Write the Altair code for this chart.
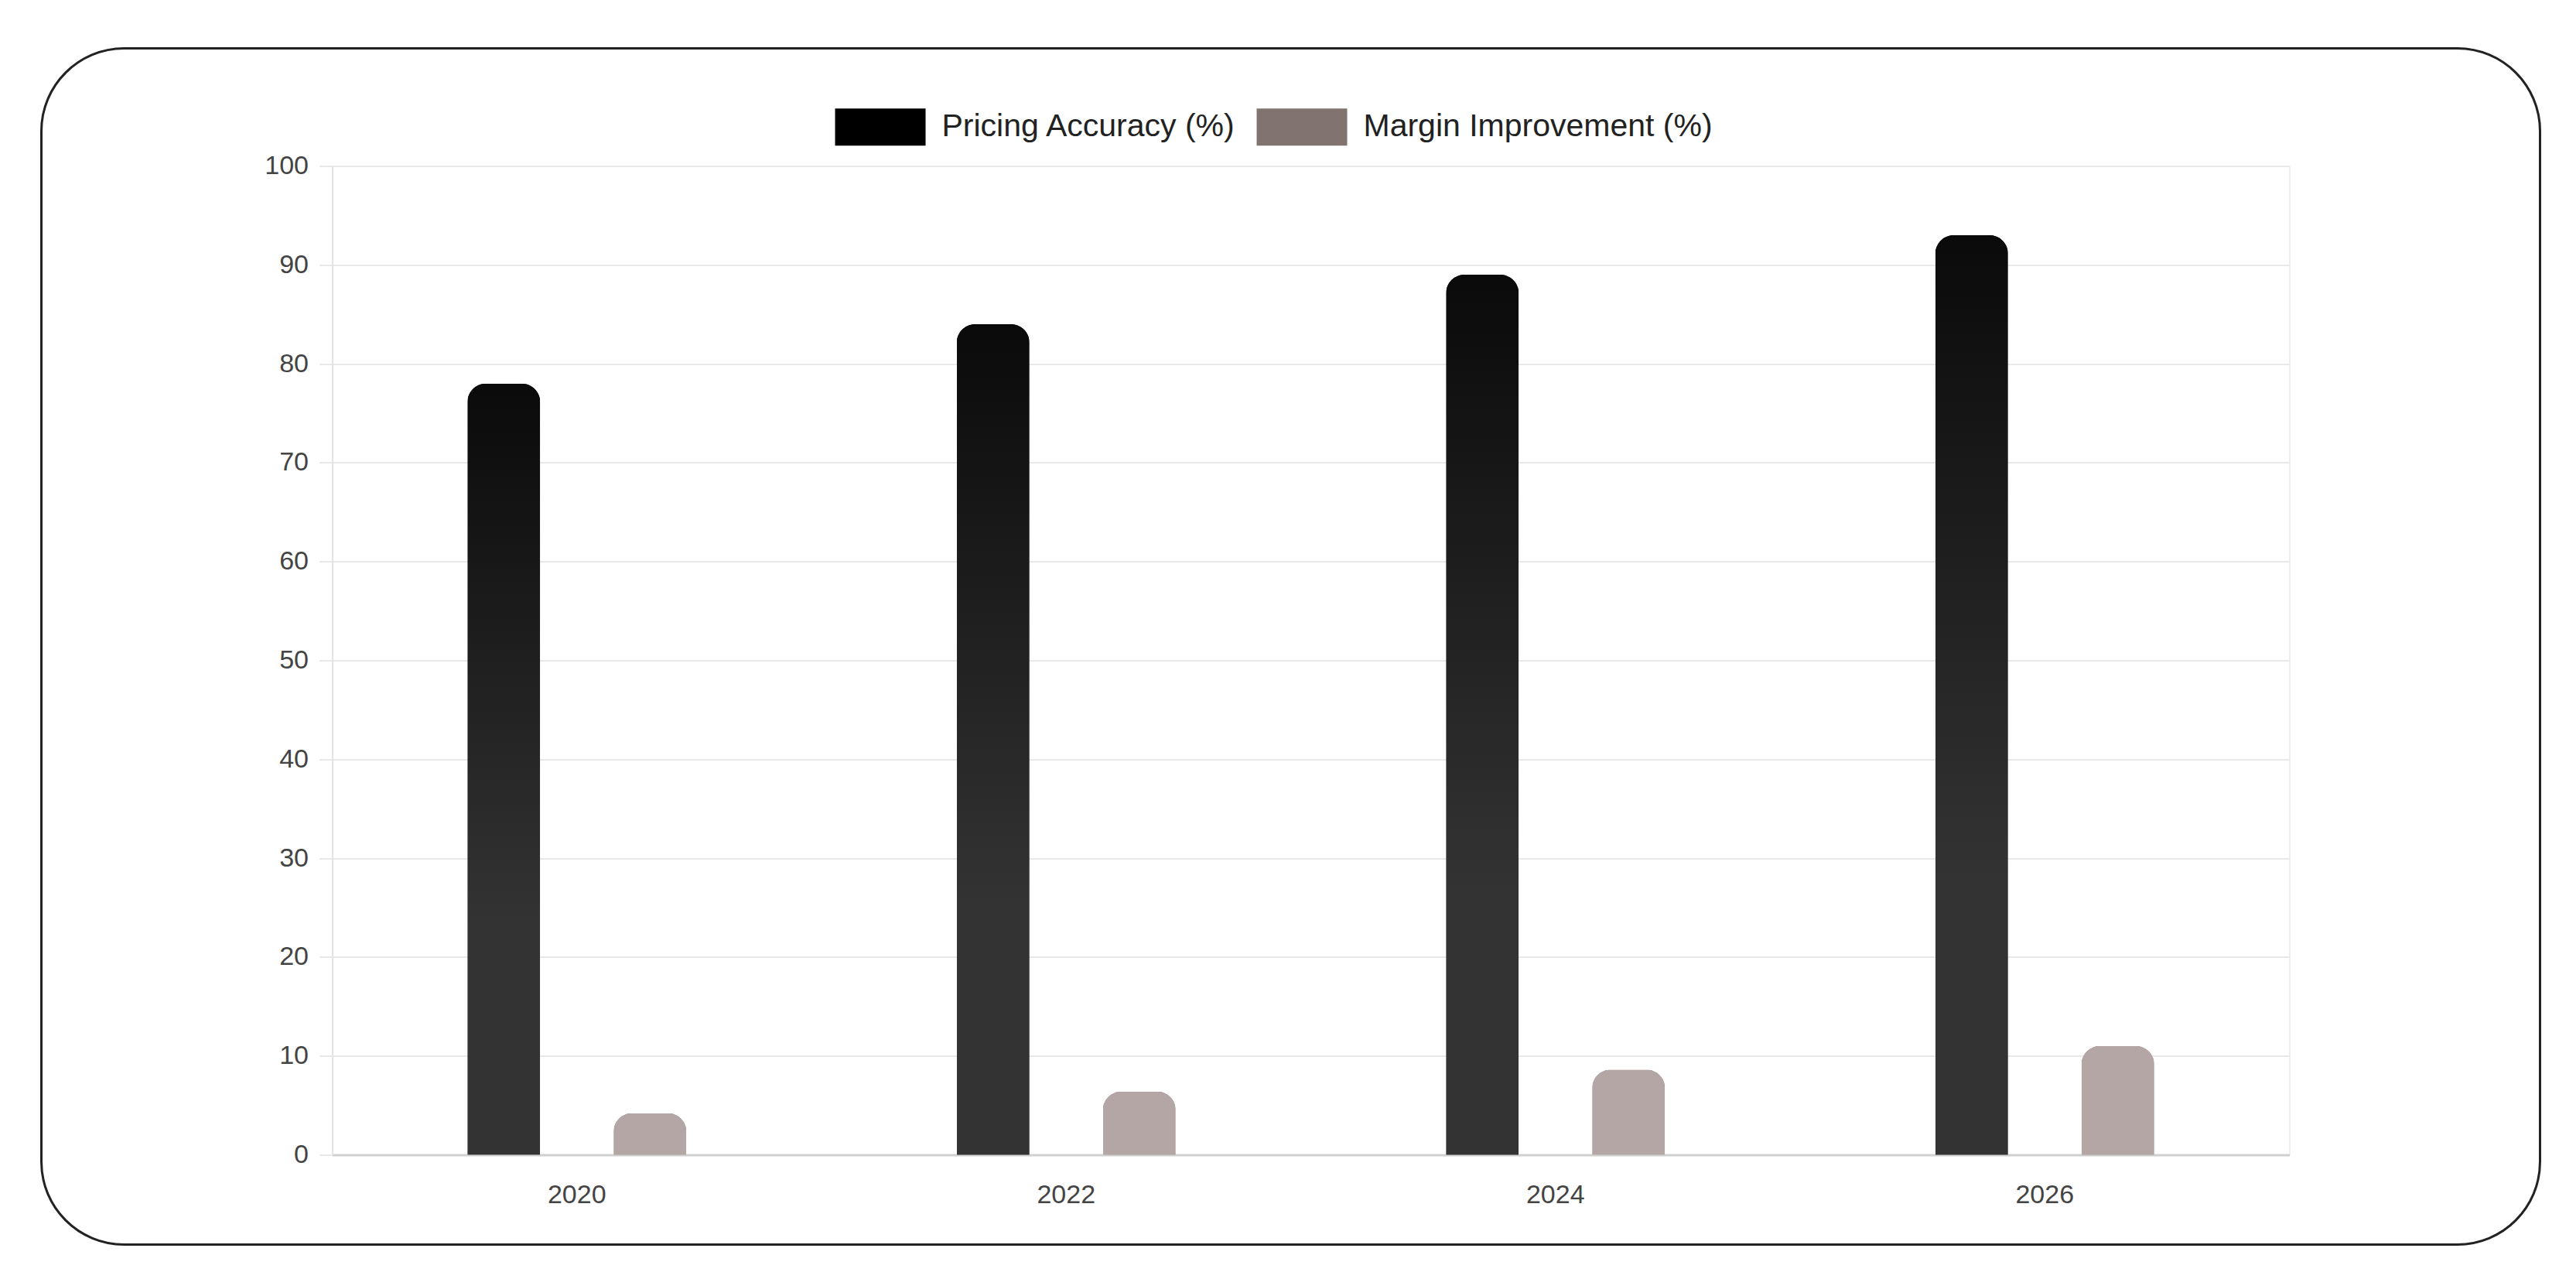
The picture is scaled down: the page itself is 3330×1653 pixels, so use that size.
import altair as alt
import pandas as pd

years = ["2020", "2022", "2024", "2026"]
pricing_accuracy = [78, 84, 89, 93]
margin_improvement = [4.2, 6.4, 8.6, 11.0]
series_names = ["Pricing Accuracy (%)", "Margin Improvement (%)"]
legend_colors = ["#000000", "#807370"]
y_ticks = [0, 10, 20, 30, 40, 50, 60, 70, 80, 90, 100]

rows = []
for i, yr in enumerate(years):
    rows.append({"year": yr, "series": series_names[0], "value": pricing_accuracy[i]})
    rows.append({"year": yr, "series": series_names[1], "value": margin_improvement[i]})
df = pd.DataFrame(rows)

FONT = "Liberation Sans"
RADIUS = 24

x_enc = alt.X("year:N", sort=years, title=None,
              scale=alt.Scale(paddingInner=0, paddingOuter=0),
              axis=alt.Axis(labelAngle=0, ticks=False, tickSize=0, grid=False,
                            labelPadding=35, labelFontSize=34, labelFont=FONT,
                            labelColor="#444444", domainColor="#d0d0d0",
                            domainWidth=3))
xoff_enc = alt.XOffset("series:N", sort=series_names,
                       scale=alt.Scale(paddingInner=0.503, paddingOuter=0.925))
y_enc = alt.Y("value:Q", title=None,
              scale=alt.Scale(domain=[0, 100], nice=False),
              axis=alt.Axis(values=y_ticks, grid=True, gridColor="#e8e8e8",
                            gridWidth=2, tickColor="#e8e8e8", tickWidth=2,
                            tickSize=17, labelPadding=14, labelFontSize=34,
                            labelFont=FONT, labelColor="#444444",
                            domainColor="#e3e3e3", domainWidth=2))

base = alt.Chart(df)

legend_layer = base.mark_bar(cornerRadiusTopLeft=RADIUS, cornerRadiusTopRight=RADIUS).encode(
    x=x_enc, xOffset=xoff_enc, y=y_enc,
    color=alt.Color("series:N", sort=series_names,
                    scale=alt.Scale(domain=series_names, range=legend_colors),
                    legend=alt.Legend(title=None, orient="none", direction="horizontal",
                                      legendX=650, legendY=-109, padding=0,
                                      symbolType="M-1,-0.41H1V0.41H-1Z",
                                      symbolSize=13689, symbolStrokeWidth=0,
                                      symbolOpacity=1, labelLimit=2000,
                                      labelFontSize=41, labelFont=FONT,
                                      labelColor="#222222", labelOffset=21,
                                      columnPadding=26)),
)

gradient_fill = {
    "gradient": "linear", "x1": 0, "y1": 0, "x2": 0, "y2": 1,
    "stops": [
        {"offset": 0, "color": "#0a0a0a"},
        {"offset": 0.7, "color": "#333333"},
        {"offset": 1, "color": "#333333"},
    ],
}

pricing_layer = base.transform_filter(
    alt.datum.series == series_names[0]
).mark_bar(fill=gradient_fill, cornerRadiusTopLeft=RADIUS, cornerRadiusTopRight=RADIUS).encode(
    x=x_enc, xOffset=xoff_enc, y=y_enc,
)

margin_layer = base.transform_filter(
    alt.datum.series == series_names[1]
).mark_bar(fill="#b4a6a4", cornerRadiusTopLeft=RADIUS, cornerRadiusTopRight=RADIUS).encode(
    x=x_enc, xOffset=xoff_enc, y=y_enc,
)

frame = alt.Chart(alt.Data(values=[{"k": 1}])).mark_rect(
    filled=False, stroke="#222222", strokeWidth=3, cornerRadius=107
).encode(
    x=alt.value(-376), x2=alt.value(2854), y=alt.value(-152), y2=alt.value(1394)
)

chart = alt.layer(frame, legend_layer, pricing_layer, margin_layer).properties(
    width=2530, height=1278,
    padding={"left": 43.5, "top": 52.5, "right": 10, "bottom": 10},
).configure_view(stroke=None).configure(background="white")

chart.save("out.html", embed_options={"renderer": "svg", "actions": False})
